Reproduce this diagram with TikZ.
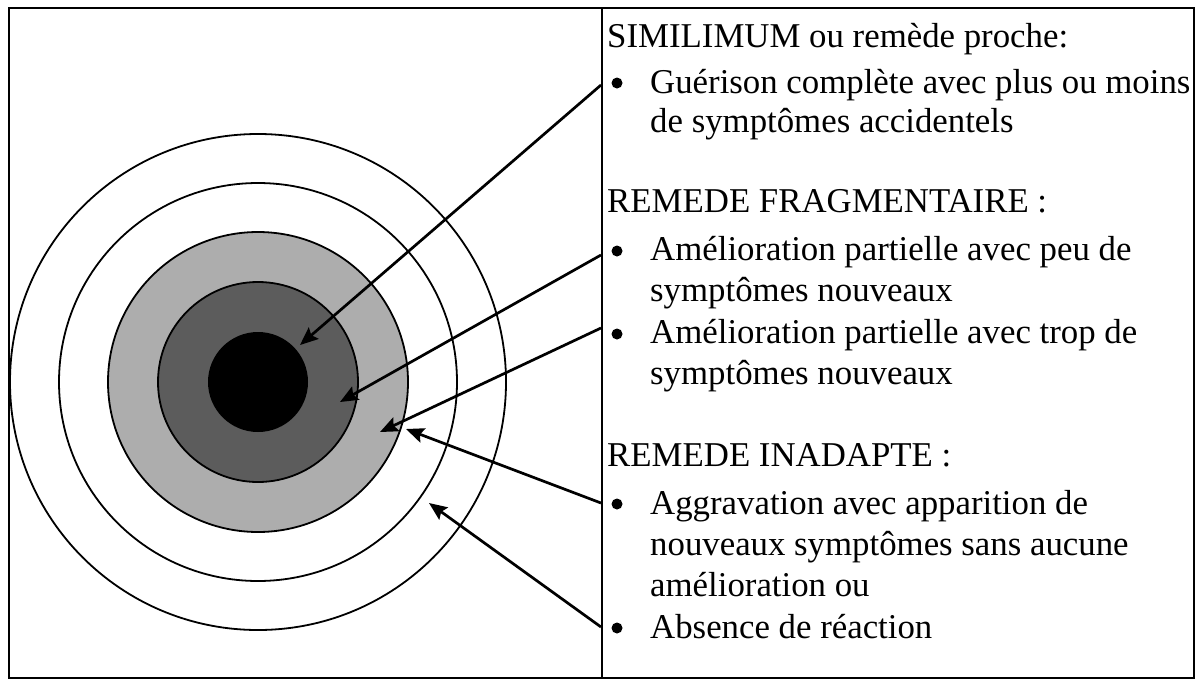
\documentclass[tikz,border=0pt]{standalone}
\usepackage{fontspec}
\setmainfont{Liberation Serif}
\usetikzlibrary{arrows.meta}
\begin{document}
\begin{tikzpicture}[x=1pt,y=-1pt,
  ring/.style={circle, draw=black, line width=1.8pt, inner sep=0pt},
  txt/.style={anchor=base west, inner sep=0pt, font=\fontsize{34.8}{42}\selectfont},
  bul/.style={circle, fill=black, inner sep=0pt, minimum size=11pt},
  arr/.style={line width=2.7pt, -{Stealth[length=18pt,width=15pt,inset=3pt]}},
  frame/.style={line width=2.2pt},
  divider/.style={line width=1.5pt}]
\useasboundingbox (0,0) rectangle (1197,681);
\fill[white] (0,0) rectangle (1197,681);
% target rings
\node[ring, minimum size=496pt, fill=white] (r5) at (258,382) {};
\node[ring, minimum size=398pt] (r4) at (258,382) {};
\node[ring, minimum size=300pt, fill=black!32] (r3) at (258,382) {};
\node[ring, minimum size=200pt, fill=black!64] (r2) at (258,382) {};
\node[circle, fill=black, inner sep=0pt, minimum size=100pt] (r1) at (258,382) {};
% frame
\draw[frame] (9,8) rectangle (1194,678);
\coordinate (dtop) at (602,8);
\coordinate (dbot) at (602,678);
\draw[divider] (dtop) -- (dbot);
% texts
\node[txt] (h1) at (607,47) {SIMILIMUM ou remède proche:};
\node[bul] (b1) at (617,83) {};
\node[txt] (l1) at (650,93) {Guérison complète avec plus ou moins};
\node[txt] (l2) at (650,132) {de symptômes accidentels};
\node[txt] (h2) at (607,212) {REMEDE FRAGMENTAIRE :};
\node[bul] (b2) at (617,251) {};
\node[txt] (l3) at (650,260) {Amélioration partielle avec peu de};
\node[txt] (l4) at (650,301) {symptômes nouveaux};
\node[bul] (b3) at (617,334) {};
\node[txt] (l5) at (650,343) {Amélioration partielle avec trop de};
\node[txt] (l6) at (650,384) {symptômes nouveaux};
\node[txt] (h3) at (607,466) {REMEDE INADAPTE :};
\node[bul] (b4) at (617,504) {};
\node[txt] (l7) at (650,514) {Aggravation avec apparition de};
\node[txt] (l8) at (650,555) {nouveaux symptômes sans aucune};
\node[txt] (l9) at (650,596) {amélioration ou};
\node[bul] (b5) at (617,628) {};
\node[txt] (l10) at (650,638) {Absence de réaction};
% arrows
\coordinate (s1) at (601,85);
\coordinate (s2) at (601,255);
\coordinate (s3) at (601,328);
\coordinate (s4) at (601,503);
\coordinate (s5) at (601,627);
\coordinate (t1) at (300,345);
\coordinate (t2) at (340,402);
\coordinate (t3) at (380,432);
\coordinate (t4) at (406,429);
\coordinate (t5) at (429,503);
\draw[arr] (s1) -- (t1);
\draw[arr] (s2) -- (t2);
\draw[arr] (s3) -- (t3);
\draw[arr] (s4) -- (t4);
\draw[arr] (s5) -- (t5);
\end{tikzpicture}
\end{document}
